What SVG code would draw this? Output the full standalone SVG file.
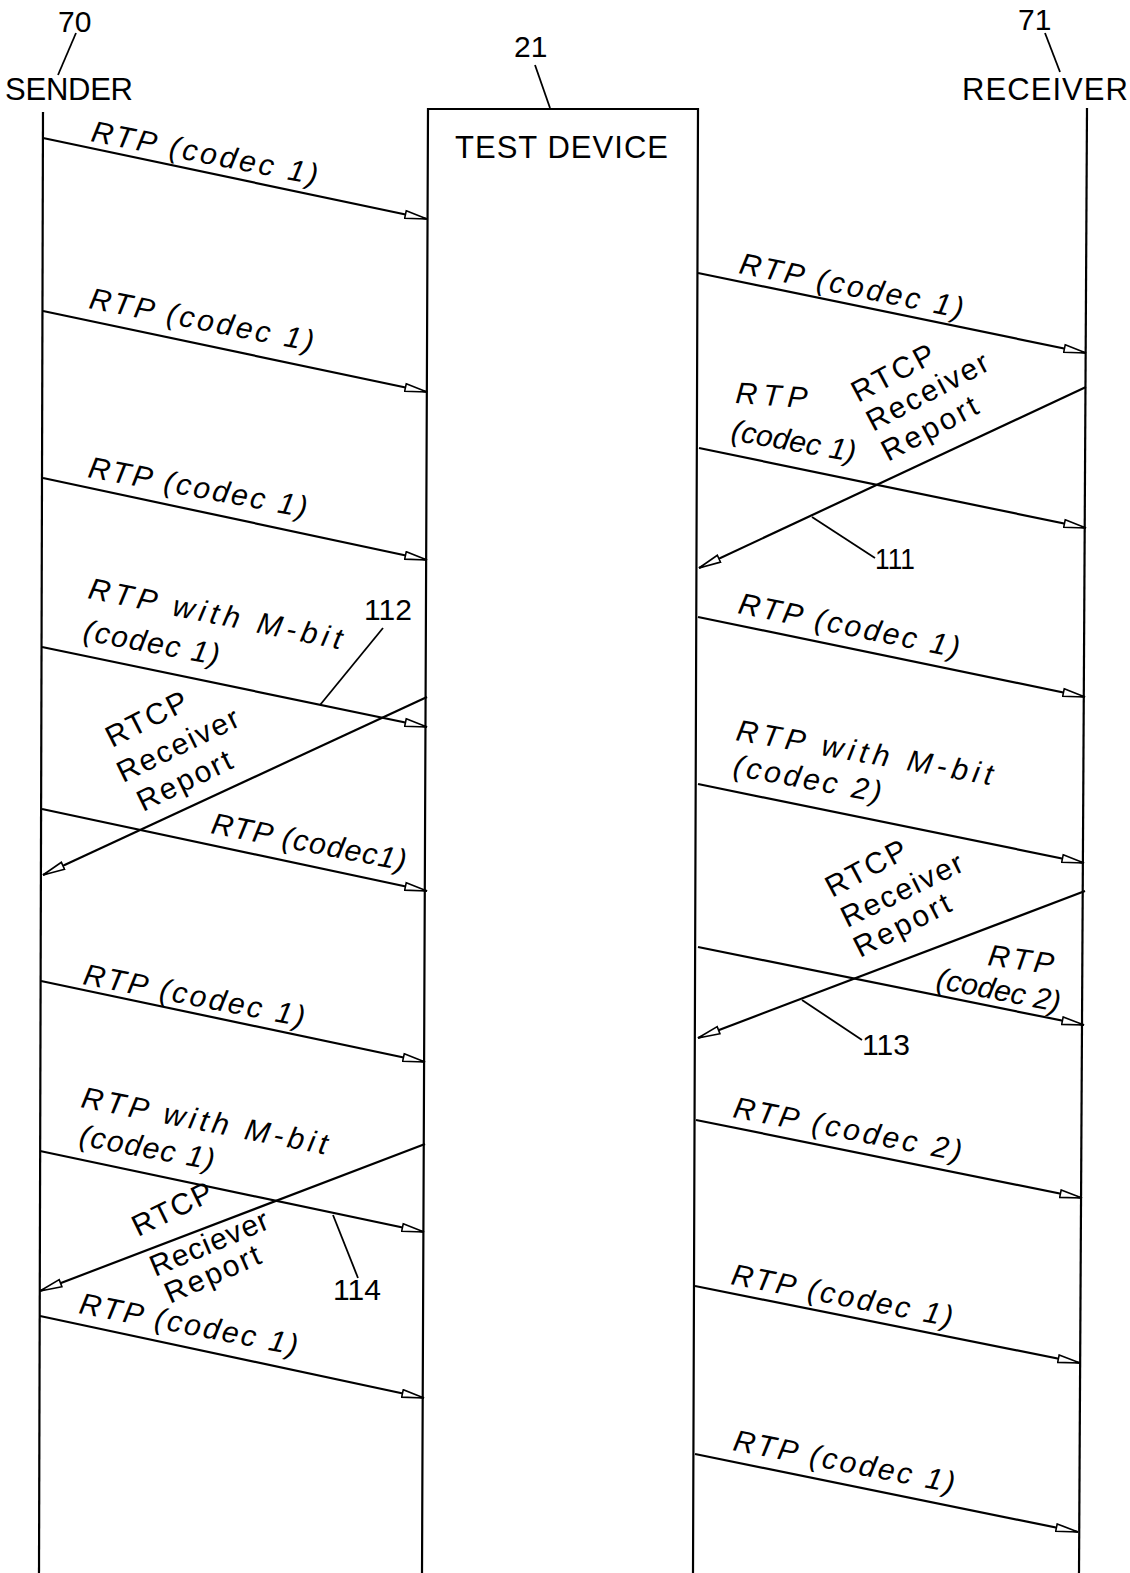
<svg xmlns="http://www.w3.org/2000/svg" width="1130" height="1573" viewBox="0 0 1130 1573">
<style>
.ln{stroke:#000;stroke-width:2.2;fill:none}
.msg{stroke:#000;stroke-width:2.2;fill:none;marker-end:url(#ah)}
.ld{stroke:#000;stroke-width:1.8;fill:none}
text{font-family:"Liberation Sans",Arial,sans-serif;fill:#000}
.t{font-size:30px}
.it{font-style:italic}
.n{font-size:30px}
.h{font-size:31px}
</style>
<defs>
<marker id="ah" viewBox="0 0 24 10" refX="23" refY="5" markerWidth="24" markerHeight="10" markerUnits="userSpaceOnUse" orient="auto">
<path d="M1,1.2 L23,5 L1,8.8 Z" fill="#fff" stroke="#000" stroke-width="1.6" stroke-linejoin="miter"/>
</marker>
</defs>
<rect width="1130" height="1573" fill="#fff"/>

<g id="sender">
<line class="ln" x1="43" y1="112" x2="39" y2="1573"/>
<text class="n" x="58" y="32">70</text>
<line class="ld" x1="76" y1="33" x2="58" y2="75"/>
<text class="h" x="5" y="100" textLength="128" lengthAdjust="spacing">SENDER</text>
</g>

<g id="test-device">
<path class="ln" d="M422,1573 L428,109 L698,109 L693,1573"/>
<text class="n" x="514" y="57">21</text>
<line class="ld" x1="535" y1="65" x2="550" y2="108"/>
<text class="h" x="455" y="158" textLength="213" lengthAdjust="spacing">TEST DEVICE</text>
</g>

<g id="receiver">
<line class="ln" x1="1087" y1="108" x2="1079" y2="1573"/>
<text class="n" x="1018" y="30">71</text>
<line class="ld" x1="1045" y1="33" x2="1060" y2="72"/>
<text class="h" x="962" y="100" textLength="166" lengthAdjust="spacing">RECEIVER</text>
</g>

<g id="connectors">
<line class="msg" x1="43" y1="138" x2="427" y2="219"/>
<line class="msg" x1="43" y1="311" x2="427" y2="392"/>
<line class="msg" x1="43" y1="478" x2="427" y2="560"/>
<line class="msg" x1="42" y1="647" x2="427" y2="727"/>
<line class="msg" x1="427" y1="697" x2="43" y2="875"/>
<line class="msg" x1="42" y1="809" x2="427" y2="891"/>
<line class="msg" x1="41" y1="981" x2="425" y2="1062"/>
<line class="msg" x1="40" y1="1151" x2="424" y2="1232"/>
<line class="msg" x1="425" y1="1144" x2="40" y2="1291"/>
<line class="msg" x1="40" y1="1316" x2="424" y2="1398"/>
<line class="msg" x1="698" y1="273" x2="1086" y2="353"/>
<line class="msg" x1="1086" y1="387" x2="699" y2="568"/>
<line class="msg" x1="699" y1="448" x2="1086" y2="528"/>
<line class="msg" x1="698" y1="617" x2="1085" y2="697"/>
<line class="msg" x1="698" y1="784" x2="1084" y2="863"/>
<line class="msg" x1="1085" y1="891" x2="698" y2="1038"/>
<line class="msg" x1="698" y1="947" x2="1084" y2="1025"/>
<line class="msg" x1="696" y1="1120" x2="1082" y2="1198"/>
<line class="msg" x1="695" y1="1286" x2="1080" y2="1363"/>
<line class="msg" x1="695" y1="1454" x2="1078" y2="1532"/>
<line class="ld" x1="383" y1="628" x2="320" y2="705"/>
<line class="ld" x1="358" y1="1278" x2="333" y2="1215"/>
<line class="ld" x1="875" y1="558" x2="812" y2="517"/>
<line class="ld" x1="862" y1="1040" x2="802" y2="1000"/>
</g>

<g id="labels">
<text class="t it" transform="translate(90,141) rotate(11)" textLength="230" lengthAdjust="spacing">RTP (codec 1)</text>
<text class="t it" transform="translate(88,308) rotate(11)" textLength="228" lengthAdjust="spacing">RTP (codec 1)</text>
<text class="t it" transform="translate(87,477) rotate(10.5)" textLength="222" lengthAdjust="spacing">RTP (codec 1)</text>
<text class="t it" transform="translate(87,598) rotate(11.5)" textLength="258" lengthAdjust="spacing">RTP with M-bit</text>
<text class="t it" transform="translate(82,640) rotate(10.5)" textLength="138" lengthAdjust="spacing">(codec 1)</text>
<text class="n" x="364" y="620">112</text>
<text class="t" transform="translate(112,748) rotate(-27)" textLength="88" lengthAdjust="spacing">RTCP</text>
<text class="t" transform="translate(123,783) rotate(-26)" textLength="132" lengthAdjust="spacing">Receiver</text>
<text class="t" transform="translate(143,812) rotate(-26)" textLength="102" lengthAdjust="spacing">Report</text>
<text class="t it" transform="translate(210,833) rotate(11)" textLength="198" lengthAdjust="spacing">RTP (codec1)</text>
<text class="t it" transform="translate(82,984) rotate(11)" textLength="225" lengthAdjust="spacing">RTP (codec 1)</text>
<text class="t it" transform="translate(80,1107) rotate(11)" textLength="250" lengthAdjust="spacing">RTP with M-bit</text>
<text class="t it" transform="translate(78,1145) rotate(10.5)" textLength="137" lengthAdjust="spacing">(codec 1)</text>
<text class="t" transform="translate(138,1237) rotate(-26)" textLength="86" lengthAdjust="spacing">RTCP</text>
<text class="t" transform="translate(155,1277) rotate(-23)" textLength="126" lengthAdjust="spacing">Reciever</text>
<text class="t" transform="translate(170,1304) rotate(-24)" textLength="102" lengthAdjust="spacing">Report</text>
<text class="n" x="333" y="1300">114</text>
<text class="t it" transform="translate(78,1313) rotate(11)" textLength="222" lengthAdjust="spacing">RTP (codec 1)</text>

<text class="t it" transform="translate(738,273) rotate(11.5)" textLength="228" lengthAdjust="spacing">RTP (codec 1)</text>
<text class="t" transform="translate(858,403) rotate(-28)" textLength="90" lengthAdjust="spacing">RTCP</text>
<text class="t" transform="translate(873,432) rotate(-28)" textLength="134" lengthAdjust="spacing">Receiver</text>
<text class="t" transform="translate(888,462) rotate(-28)" textLength="105" lengthAdjust="spacing">Report</text>
<text class="t it" transform="translate(735,403) rotate(4)" textLength="72" lengthAdjust="spacing">RTP</text>
<text class="t it" transform="translate(730,440) rotate(10)" textLength="126" lengthAdjust="spacing">(codec 1)</text>
<text class="n" x="875" y="569" textLength="40" lengthAdjust="spacingAndGlyphs">111</text>
<text class="t it" transform="translate(737,613) rotate(11.5)" textLength="225" lengthAdjust="spacing">RTP (codec 1)</text>
<text class="t it" transform="translate(735,740) rotate(10)" textLength="260" lengthAdjust="spacing">RTP with M-bit</text>
<text class="t it" transform="translate(732,775) rotate(10.5)" textLength="150" lengthAdjust="spacing">(codec 2)</text>
<text class="t" transform="translate(832,898) rotate(-28)" textLength="88" lengthAdjust="spacing">RTCP</text>
<text class="t" transform="translate(847,928) rotate(-26)" textLength="132" lengthAdjust="spacing">Receiver</text>
<text class="t" transform="translate(860,958) rotate(-27)" textLength="105" lengthAdjust="spacing">Report</text>
<text class="t it" transform="translate(987,965) rotate(8)" textLength="66" lengthAdjust="spacing">RTP</text>
<text class="t it" transform="translate(935,988) rotate(11)" textLength="126" lengthAdjust="spacing">(codec 2)</text>
<text class="n" x="862" y="1055">113</text>
<text class="t it" transform="translate(732,1117) rotate(11)" textLength="232" lengthAdjust="spacing">RTP (codec 2)</text>
<text class="t it" transform="translate(730,1284) rotate(11)" textLength="225" lengthAdjust="spacing">RTP (codec 1)</text>
<text class="t it" transform="translate(732,1450) rotate(11)" textLength="225" lengthAdjust="spacing">RTP (codec 1)</text>
</g>
</svg>
